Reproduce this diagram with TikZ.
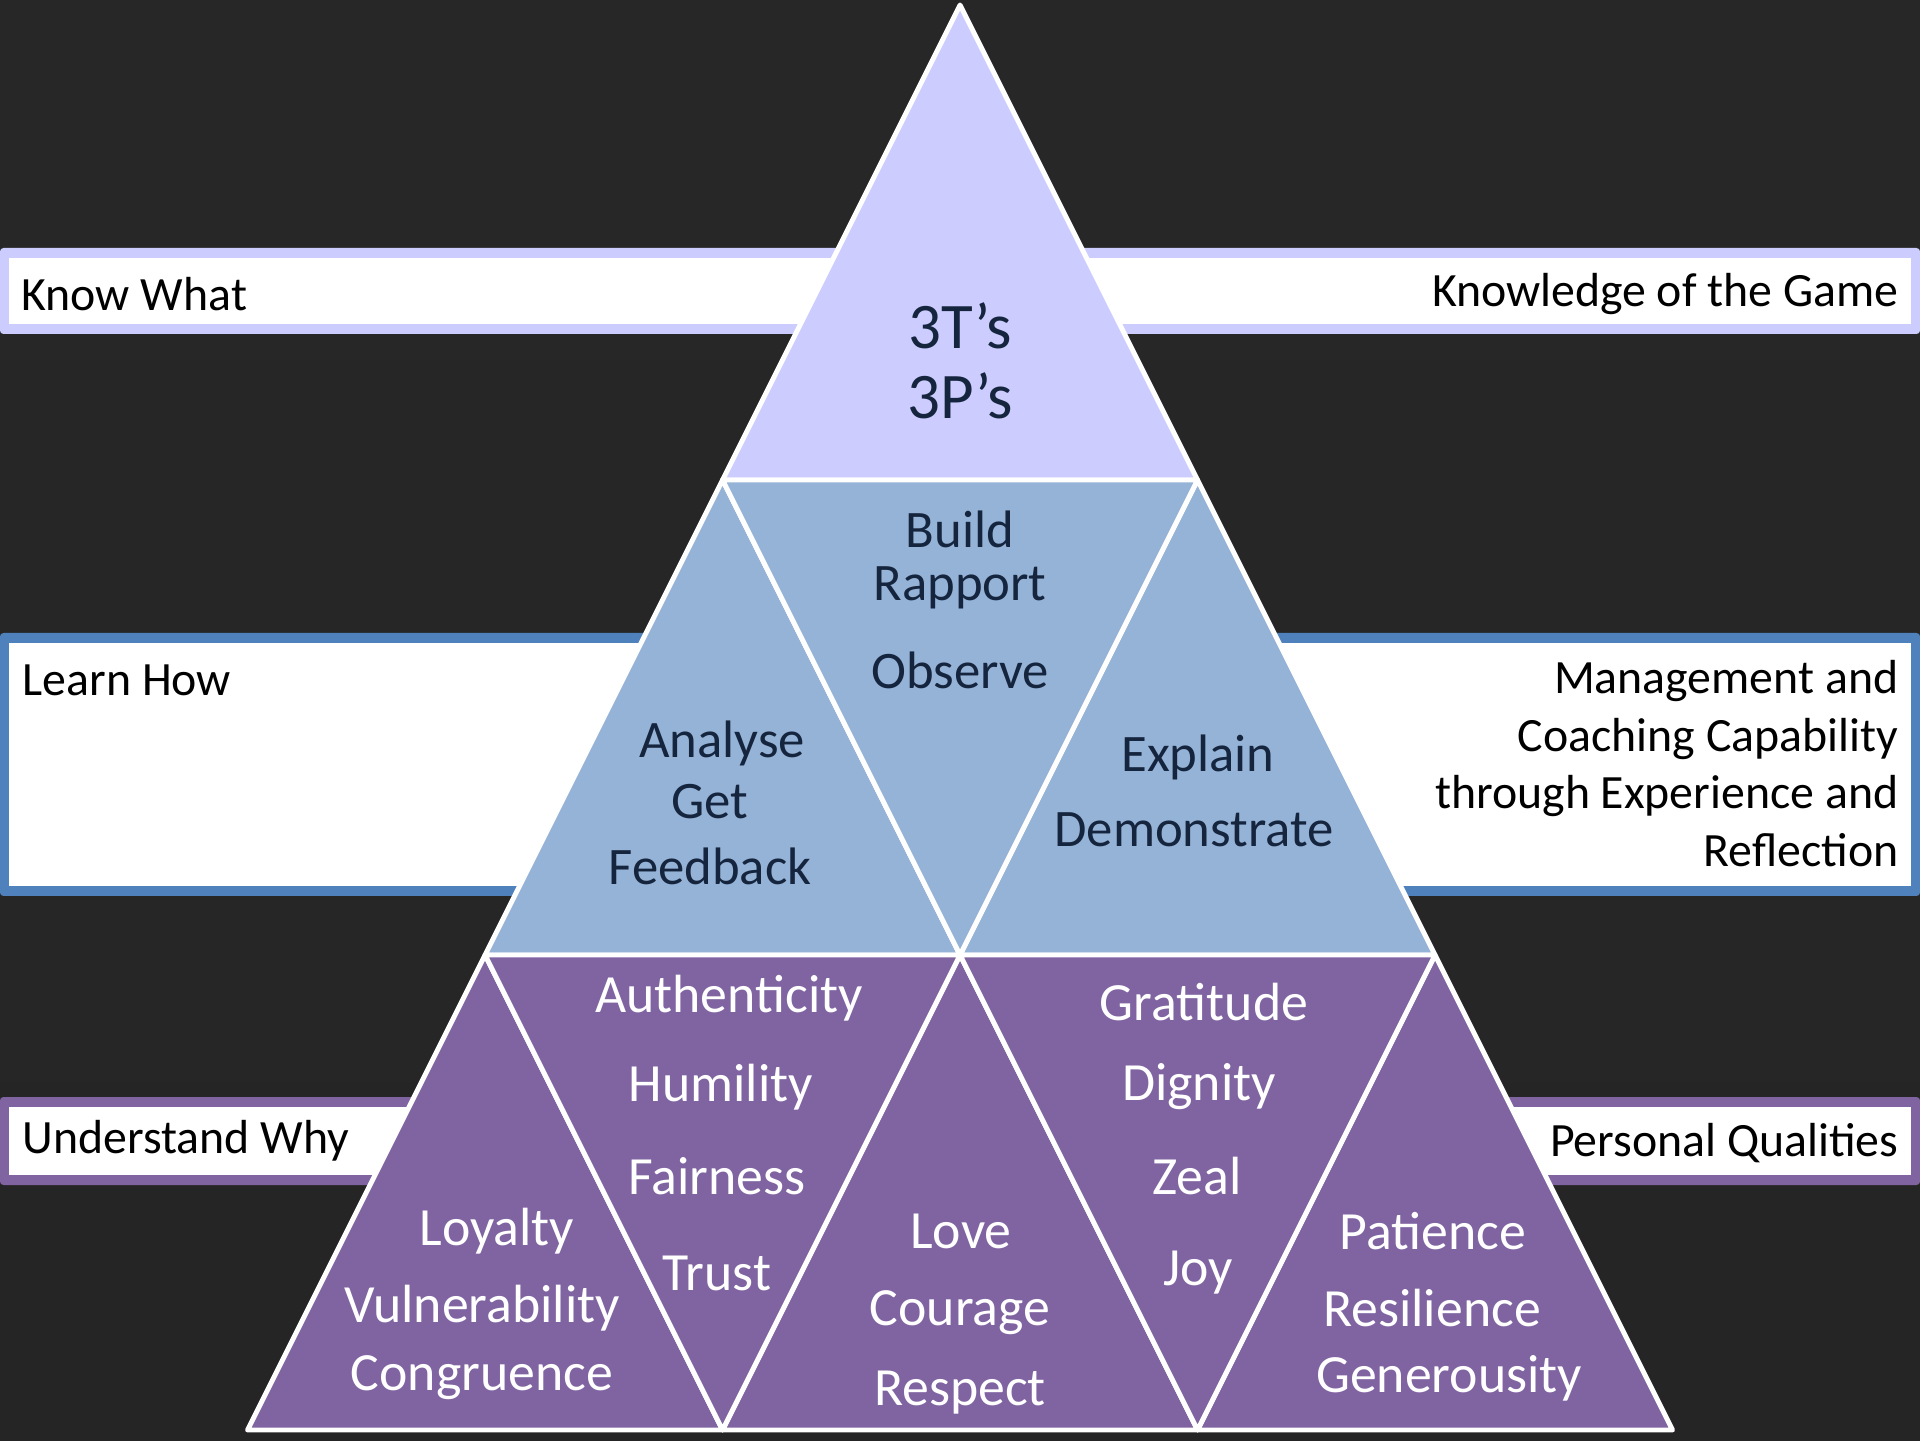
\documentclass[tikz,border=0pt]{standalone}
\usepackage{fontspec}
\setmainfont{Carlito}
\usepackage{tikz}
\usetikzlibrary{calc}

\definecolor{lavender}{HTML}{CCCCFF}
\definecolor{steel}{HTML}{95B3D7}
\definecolor{bandblue}{HTML}{4F81BD}
\definecolor{purp}{HTML}{8064A2}
\definecolor{navytxt}{HTML}{16253E}
\definecolor{bgtop}{HTML}{272727}
\definecolor{bgmid}{HTML}{3D3D3D}
\definecolor{bgbot}{HTML}{252525}

\tikzset{
  tri/.style={draw=white, line width=1.4pt, line join=round},
  bandtxt/.style={inner sep=0pt, text=black, font=\fontsize{13.6}{16.4}\selectfont},
  toptxt/.style={inner sep=0pt, text=navytxt, font=\fontsize{18.5}{22}\selectfont},
  midtxt/.style={inner sep=0pt, text=navytxt, font=\fontsize{15}{18}\selectfont},
  lowtxt/.style={inner sep=0pt, text=white, font=\fontsize{15.3}{18}\selectfont}
}

\begin{document}
\begin{tikzpicture}

  \useasboundingbox (0,0) rectangle (19.2,14.4);
  \shade[top color=bgtop, middle color=bgmid, bottom color=bgbot] (0,0) rectangle (19.2,14.4);

  %bands
    \foreach \yb/\yt/\col in {11.06/11.92/lavender, 5.44/8.07/bandblue, 2.55/3.43/purp}{
        \fill[\col, rounded corners=1pt] (0,\yb) rectangle (19.2,\yt);
        \fill[white] (0.09,\yb+0.1) rectangle (19.11,\yt-0.1);
    }

  %pyramid
  \def\ax{9.6};
  \def\ay{14.35};
  \def\w{2.375};
  \def\h{4.75};

    % upward triangles
    \foreach \r/\k/\col in {1/0/lavender, 2/0/steel, 2/1/steel, 3/0/purp, 3/1/purp, 3/2/purp}{
        \pgfmathsetmacro\xa{\ax-\w*(\r-1)+2*\w*\k}
        \pgfmathsetmacro\ya{\ay-\h*(\r-1)}
        \pgfmathsetmacro\yb{\ay-\h*\r}
        \filldraw[tri, fill=\col] (\xa,\ya) -- (\xa-\w,\yb) -- (\xa+\w,\yb) -- cycle;
    }

    % downward triangles
    \foreach \r/\k/\col in {2/0/steel, 3/0/purp, 3/1/purp}{
        \pgfmathsetmacro\xa{\ax-\w*(\r-1)+2*\w*\k}
        \pgfmathsetmacro\ya{\ay-\h*(\r-1)}
        \pgfmathsetmacro\yb{\ay-\h*\r}
        \filldraw[tri, fill=\col] (\xa,\ya) -- (\xa+2*\w,\ya) -- (\xa+\w,\yb) -- cycle;
    }

  %band labels
  \node[bandtxt, anchor=west] (know) at (0.21,11.46) {Know What};
  \node[bandtxt, anchor=east] (game) at (18.99,11.46) {Knowledge of the Game};
  \node[bandtxt, anchor=west] (learn) at (0.22,7.60) {Learn How};
  \node[bandtxt, anchor=east, align=right] (coach) at (18.99,6.765) {Management and\\Coaching Capability\\through Experience and\\Reflection};
  \node[bandtxt, anchor=west] (why) at (0.22,2.99) {Understand Why};
  \node[bandtxt, anchor=east] (qual) at (18.99,2.97) {Personal Qualities};

  %top
    \foreach \x/\y/\txt/\name in {9.60/11.14/3T’s/tts, 9.60/10.44/3P’s/tps}{
        \node[toptxt] (\name) at (\x,\y) {\txt};
    }

  %middle
    \foreach \x/\y/\txt/\name in {9.60/9.11/Build/build, 9.60/8.52/Rapport/rapport, 9.60/7.70/Observe/observe,
                                  7.22/6.97/Analyse/analyse, 7.10/6.38/Get/get, 7.10/5.74/Feedback/feedback,
                                  11.98/6.83/Explain/explain, 11.94/6.10/Demonstrate/demo}{
        \node[midtxt] (\name) at (\x,\y) {\txt};
    }

  %bottom
    \foreach \x/\y/\txt/\name in {4.97/2.09/Loyalty/loyal, 4.82/1.32/Vulnerability/vuln, 4.82/0.62/Congruence/congr,
                                  7.29/4.42/Authenticity/auth, 7.21/3.53/Humility/humil, 7.17/2.64/Fairness/fair, 7.17/1.67/Trust/trust,
                                  9.61/2.09/Love/love, 9.60/1.27/Courage/courage, 9.60/0.47/Respect/respect,
                                  12.04/4.38/Gratitude/grat, 11.99/3.53/Dignity/dign, 11.97/2.64/Zeal/zeal, 11.98/1.67/Joy/joy,
                                  14.33/2.09/Patience/pat, 14.32/1.32/Resilience/resil, 14.49/0.62/Generousity/gener}{
        \node[lowtxt] (\name) at (\x,\y) {\txt};
    }

\end{tikzpicture}
\end{document}
